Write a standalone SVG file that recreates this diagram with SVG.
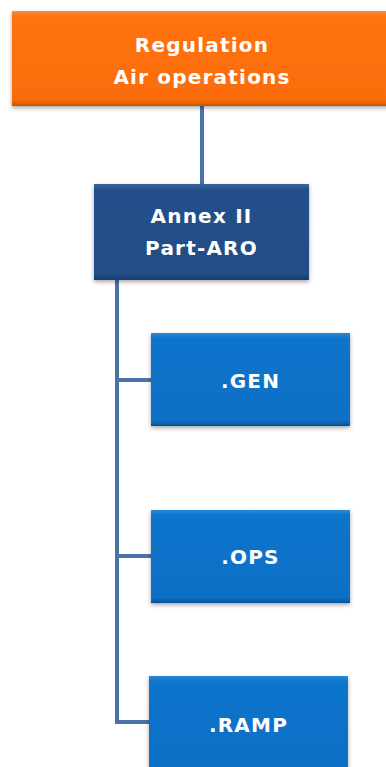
<svg xmlns="http://www.w3.org/2000/svg" width="386" height="767" viewBox="0 0 386 767">
<defs>
<style>
text{font-family:"DejaVu Sans","Verdana",sans-serif;font-weight:bold;fill:#fff;text-anchor:middle;font-size:20px;letter-spacing:1.2px}
.conn{stroke:#4a72a8;stroke-width:4;fill:none}
</style>
<linearGradient id="gOr" x1="0" y1="0" x2="0" y2="1">
<stop offset="0" stop-color="#ff8a3a"/><stop offset="0.06" stop-color="#ff7210"/><stop offset="0.94" stop-color="#fa6c06"/><stop offset="1" stop-color="#c65200"/>
</linearGradient>
<linearGradient id="gDk" x1="0" y1="0" x2="0" y2="1">
<stop offset="0" stop-color="#3d679c"/><stop offset="0.06" stop-color="#24508a"/><stop offset="0.94" stop-color="#224d85"/><stop offset="1" stop-color="#163a66"/>
</linearGradient>
<linearGradient id="gBl" x1="0" y1="0" x2="0" y2="1">
<stop offset="0" stop-color="#2b8ad8"/><stop offset="0.06" stop-color="#0b74cb"/><stop offset="0.94" stop-color="#0a70c6"/><stop offset="1" stop-color="#055496"/>
</linearGradient>
<filter id="sh" x="-10%" y="-10%" width="120%" height="130%">
<feDropShadow dx="0" dy="2" stdDeviation="2" flood-color="#000" flood-opacity="0.35"/>
</filter>
</defs>
<g id="connectors">
<line class="conn" x1="202" y1="106" x2="202" y2="185"/>
<polyline class="conn" points="117,280 117,722 151,722"/>
<line class="conn" x1="117" y1="380" x2="152" y2="380"/>
<line class="conn" x1="117" y1="556" x2="152" y2="556"/>
</g>
<g id="regulation">
<rect x="12" y="11" width="380" height="95" fill="url(#gOr)" filter="url(#sh)"/>
<text x="202" y="52">Regulation</text>
<text x="202" y="84">Air operations</text>
</g>
<g id="annex">
<rect x="94" y="184" width="215" height="96" fill="url(#gDk)" filter="url(#sh)"/>
<text x="201.5" y="223">Annex II</text>
<text x="201.5" y="255">Part-ARO</text>
</g>
<g id="gen">
<rect x="151" y="333" width="199" height="93" fill="url(#gBl)" filter="url(#sh)"/>
<text x="250.5" y="388">.GEN</text>
</g>
<g id="ops">
<rect x="151" y="510" width="199" height="93" fill="url(#gBl)" filter="url(#sh)"/>
<text x="250.5" y="564">.OPS</text>
</g>
<g id="ramp">
<rect x="149" y="676" width="199" height="100" fill="url(#gBl)" filter="url(#sh)"/>
<text x="248.5" y="732">.RAMP</text>
</g>
</svg>
